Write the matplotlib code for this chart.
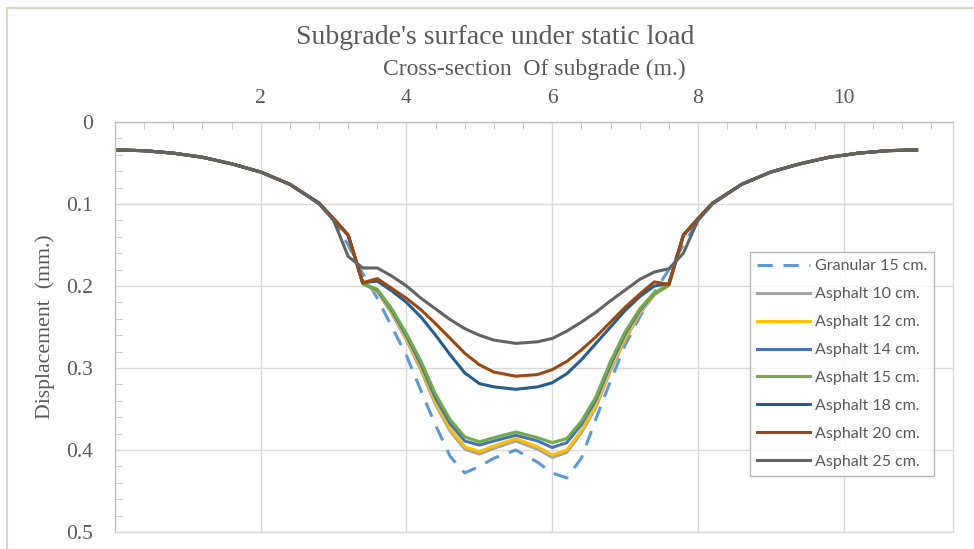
import matplotlib.pyplot as plt
from matplotlib.patches import Rectangle
from matplotlib.ticker import MultipleLocator

# cross-section positions (m.)
x = [0, 0.4, 0.8, 1.2, 1.6, 2.0, 2.4, 2.8, 3.0, 3.2, 3.4, 3.6, 3.8, 4.0, 4.2, 4.4, 4.6, 4.8, 5.0, 5.2,
     5.5, 5.8, 6.0, 6.2, 6.4, 6.6, 6.8, 7.0, 7.2, 7.4, 7.6, 7.8, 8.0, 8.2, 8.6, 9.0, 9.4, 9.8, 10.2, 10.6, 11.0]

granular_15 = [0.034, 0.035, 0.038, 0.043, 0.051, 0.061, 0.076, 0.099, 0.120, 0.150, 0.185, 0.215, 0.250, 0.285,
               0.328, 0.370, 0.408, 0.428, 0.420, 0.410, 0.400, 0.415, 0.428, 0.434, 0.410, 0.362, 0.316, 0.272,
               0.238, 0.208, 0.180, 0.150, 0.120, 0.099, 0.076, 0.061, 0.051, 0.043, 0.038, 0.035, 0.034]
asphalt_10 = [0.034, 0.035, 0.038, 0.043, 0.051, 0.061, 0.076, 0.099, 0.118, 0.138, 0.197, 0.207, 0.234, 0.266,
              0.303, 0.345, 0.377, 0.399, 0.405, 0.398, 0.389, 0.399, 0.409, 0.403, 0.379, 0.348, 0.303, 0.266,
              0.234, 0.211, 0.199, 0.138, 0.118, 0.099, 0.076, 0.061, 0.051, 0.043, 0.038, 0.035, 0.034]
asphalt_12 = [0.034, 0.035, 0.038, 0.043, 0.051, 0.061, 0.076, 0.099, 0.118, 0.138, 0.197, 0.206, 0.232, 0.264,
              0.300, 0.342, 0.374, 0.396, 0.402, 0.395, 0.386, 0.396, 0.406, 0.400, 0.376, 0.345, 0.300, 0.263,
              0.232, 0.210, 0.199, 0.138, 0.118, 0.099, 0.076, 0.061, 0.051, 0.043, 0.038, 0.035, 0.034]
asphalt_14 = [0.034, 0.035, 0.038, 0.043, 0.051, 0.061, 0.076, 0.099, 0.118, 0.138, 0.197, 0.205, 0.230, 0.261,
              0.296, 0.337, 0.368, 0.389, 0.394, 0.389, 0.382, 0.389, 0.397, 0.391, 0.369, 0.339, 0.296, 0.259,
              0.230, 0.209, 0.199, 0.138, 0.118, 0.099, 0.076, 0.061, 0.051, 0.043, 0.038, 0.035, 0.034]
asphalt_15 = [0.034, 0.035, 0.038, 0.043, 0.051, 0.061, 0.076, 0.099, 0.118, 0.138, 0.197, 0.204, 0.228, 0.258,
              0.292, 0.332, 0.363, 0.384, 0.390, 0.385, 0.378, 0.385, 0.391, 0.386, 0.365, 0.335, 0.292, 0.256,
              0.228, 0.208, 0.199, 0.138, 0.118, 0.099, 0.076, 0.061, 0.051, 0.043, 0.038, 0.035, 0.034]
asphalt_18 = [0.034, 0.035, 0.038, 0.043, 0.051, 0.061, 0.076, 0.099, 0.118, 0.138, 0.196, 0.194, 0.206, 0.220,
              0.238, 0.260, 0.284, 0.306, 0.319, 0.323, 0.326, 0.323, 0.318, 0.307, 0.290, 0.270, 0.250, 0.230,
              0.213, 0.200, 0.197, 0.138, 0.118, 0.099, 0.076, 0.061, 0.051, 0.043, 0.038, 0.035, 0.034]
asphalt_20 = [0.034, 0.035, 0.038, 0.043, 0.051, 0.061, 0.076, 0.099, 0.118, 0.138, 0.196, 0.191, 0.203, 0.215,
              0.229, 0.246, 0.264, 0.282, 0.296, 0.305, 0.310, 0.308, 0.302, 0.292, 0.278, 0.262, 0.244, 0.226,
              0.210, 0.195, 0.198, 0.138, 0.118, 0.099, 0.076, 0.061, 0.051, 0.043, 0.038, 0.035, 0.034]
asphalt_25 = [0.034, 0.035, 0.038, 0.043, 0.051, 0.061, 0.076, 0.100, 0.120, 0.164, 0.178, 0.178, 0.188, 0.200,
              0.215, 0.228, 0.241, 0.252, 0.260, 0.266, 0.270, 0.268, 0.264, 0.255, 0.244, 0.232, 0.218, 0.205,
              0.192, 0.183, 0.179, 0.160, 0.120, 0.100, 0.076, 0.061, 0.051, 0.043, 0.038, 0.035, 0.034]

series = [
    ("Granular 15 cm.", granular_15, "#5B9BD5", (0, (5, 3.5))),
    ("Asphalt 10 cm.", asphalt_10, "#A5A5A5", "-"),
    ("Asphalt 12 cm.", asphalt_12, "#FFC000", "-"),
    ("Asphalt 14 cm.", asphalt_14, "#4472C4", "-"),
    ("Asphalt 15 cm.", asphalt_15, "#70AD47", "-"),
    ("Asphalt 18 cm.", asphalt_18, "#255E91", "-"),
    ("Asphalt 20 cm.", asphalt_20, "#9E480E", "-"),
    ("Asphalt 25 cm.", asphalt_25, "#636363", "-"),
]

serif = "Liberation Serif"
txt = "#595959"

fig = plt.figure(figsize=(9.74, 5.49), dpi=100)
# outer chart border
fig.patches.append(Rectangle((7 / 974, -0.2), 1.2, 1.2 - 8 / 549,
                             transform=fig.transFigure, fill=False, ec="#D6D0B8", lw=1.2))
ax = fig.add_axes([115 / 974, 1 - 532 / 549, (953 - 115) / 974, (532 - 122) / 549])

for name, vals, col, ls in series:
    ax.plot(x, vals, color=col, linestyle=ls, lw=2.2, label=name)

ax.set_xlim(0, 11.5)
ax.set_ylim(0.5, 0)
ax.xaxis.tick_top()
ax.xaxis.set_label_position("top")
ax.xaxis.set_minor_locator(MultipleLocator(0.4))
ax.yaxis.set_minor_locator(MultipleLocator(0.02))
ax.set_xticks([2, 4, 6, 8, 10])
ax.set_yticks([0, 0.1, 0.2, 0.3, 0.4, 0.5])
ax.set_yticklabels(["0", "0.1", "0.2", "0.3", "0.4", "0.5"])

ax.grid(True, which="major", color="#D9D9D9", lw=1.0)
ax.tick_params(which="both", direction="in", colors="#BFBFBF", labelcolor=txt,
               labelsize=15.5, top=True, bottom=False, left=True, right=False)
ax.tick_params(which="major", length=0)
ax.tick_params(which="minor", length=5)
ax.tick_params(axis="x", pad=10)
ax.tick_params(axis="y", pad=16)
for lbl in ax.get_xticklabels() + ax.get_yticklabels():
    lbl.set_family(serif)
for side, sp in ax.spines.items():
    sp.set_color("#BFBFBF" if side in ("left", "top") else "#D9D9D9")
    sp.set_linewidth(1.0)

ax.set_xlabel("Cross-section  Of subgrade (m.)", family=serif, fontsize=17, color=txt, labelpad=10)
ax.set_ylabel("Displacement  (mm.)", family=serif, fontsize=15.7, color=txt, labelpad=8)
fig.text(495 / 974, 1 - 37 / 549, "Subgrade's surface under static load", family=serif,
         fontsize=20, color=txt, ha="center", va="center")

leg = ax.legend(loc="upper left", bbox_to_anchor=((750 - 115) / 838, 1 - (252 - 122) / 410),
                prop={"family": "Lato", "size": 11.5}, frameon=True, fancybox=False,
                borderpad=0.45, labelspacing=0.86, handlelength=3.3, handletextpad=0.3,
                borderaxespad=0)
leg.get_frame().set_edgecolor("#A6A6A6")
leg.get_frame().set_linewidth(1.0)
for t in leg.get_texts():
    t.set_color(txt)

fig.savefig("out.png", dpi=100)
